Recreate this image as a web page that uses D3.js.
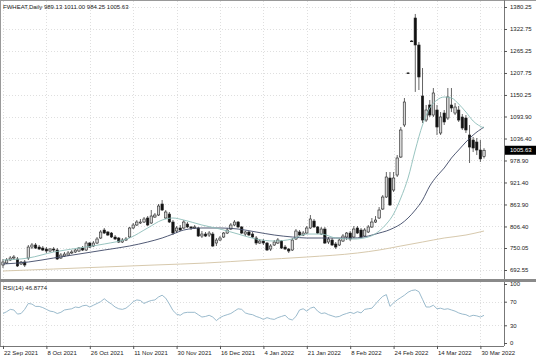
<!DOCTYPE html>
<html><head><meta charset="utf-8">
<script src="https://cdn.jsdelivr.net/npm/d3@7"></script>
<style>
html,body{margin:0;padding:0;background:#fff;}
svg{display:block;font-family:"Liberation Sans",Arial,sans-serif;}
</style></head><body>
<svg id="c" width="536" height="357"></svg>
<script>
// ---- data ----
const opens  = [705.6,710.8,718.7,723.9,721.3,708.2,713.4,723.9,752.6,757.9,752.6,750.0,747.4,742.2,747.4,744.8,723.9,729.1,731.7,737.0,739.6,742.2,750.0,744.8,763.1,755.3,763.1,776.2,797.1,791.9,789.2,778.8,776.2,765.7,770.9,778.8,802.4,810.2,815.4,818.0,828.5,815.4,831.1,836.3,865.1,828.5,838.9,818.0,794.5,802.4,802.4,812.8,805.0,802.4,802.4,781.4,786.6,784.0,786.6,763.1,770.9,778.8,789.2,799.7,810.2,818.0,805.0,786.6,791.9,786.6,776.2,763.1,768.3,763.1,747.4,757.9,763.1,768.3,752.6,747.4,744.8,773.6,791.9,784.0,789.2,802.4,820.6,805.0,786.6,799.7,765.7,770.9,760.5,757.9,768.3,778.8,789.2,778.8,802.4,797.1,781.4,791.9,805.0,818.0,828.5,852.0,883.4,933.1,901.7,940.9,988.0,1071.7,1207.7,1291.3,1351.5,1280.9,1147.5,1084.7,1124.0,1097.8,1110.9,1050.7,1103.0,1090.0,1124.0,1103.0,1110.9,1092.6,1090.0,1045.5,1032.4,1027.2,1006.3,989.13];
const highs  = [721.3,723.9,729.1,731.7,726.5,716.0,718.7,757.9,763.1,763.1,757.9,755.3,752.6,750.0,752.6,750.0,737.0,739.6,742.2,744.8,747.4,752.6,755.3,768.3,765.7,768.3,778.8,797.1,802.4,794.5,791.9,784.0,778.8,776.2,778.8,805.0,815.4,823.2,825.9,831.1,833.7,849.4,841.6,865.1,875.5,849.4,844.2,823.2,807.6,810.2,823.2,818.0,807.6,810.2,805.0,794.5,791.9,794.5,791.9,776.2,781.4,791.9,802.4,815.4,823.2,820.6,807.6,794.5,794.5,791.9,781.4,773.6,773.6,765.7,760.5,770.9,776.2,770.9,757.9,750.0,776.2,799.7,797.1,794.5,807.6,836.3,825.9,807.6,805.0,805.0,778.8,776.2,765.7,776.2,786.6,791.9,794.5,807.6,807.6,802.4,802.4,810.2,828.5,833.7,857.2,888.6,948.8,948.8,948.8,993.2,1066.4,1142.3,1210.3,1294.0,1362.0,1288.7,1220.7,1124.0,1137.0,1168.4,1124.0,1105.6,1110.9,1168.4,1168.4,1129.2,1121.4,1100.4,1097.8,1071.7,1040.3,1037.7,1032.4,1011.00];
const lows   = [697.8,708.2,716.0,718.7,700.4,705.6,700.4,718.7,747.4,747.4,744.8,742.2,737.0,739.6,739.6,718.7,721.3,726.5,729.1,734.3,737.0,739.6,742.2,742.2,750.0,752.6,760.5,773.6,786.6,781.4,776.2,770.9,763.1,763.1,768.3,776.2,799.7,807.6,812.8,815.4,807.6,812.8,828.5,833.7,846.8,825.9,815.4,784.0,789.2,794.5,799.7,802.4,797.1,799.7,778.8,776.2,778.8,778.8,752.6,755.3,768.3,776.2,786.6,797.1,807.6,802.4,786.6,781.4,781.4,776.2,757.9,760.5,757.9,742.2,742.2,755.3,760.5,747.4,744.8,737.0,742.2,770.9,781.4,781.4,786.6,799.7,802.4,786.6,784.0,760.5,760.5,755.3,747.4,755.3,765.7,770.9,768.3,776.2,786.6,776.2,778.8,789.2,802.4,815.4,825.9,849.4,880.8,859.9,896.5,935.7,985.4,1066.4,1205.1,1288.7,1158.2,1163.2,1077.0,1079.6,1092.6,1092.6,1045.5,1045.5,1071.7,1084.7,1105.6,1097.8,1079.6,1058.6,1050.7,972.3,1001.0,993.2,975.0,984.25];
const closes = [713.4,718.7,723.9,726.5,703.0,713.4,705.6,752.6,757.9,750.0,747.4,744.8,742.2,747.4,744.8,721.3,731.7,734.3,737.0,739.6,744.8,750.0,744.8,763.1,752.6,763.1,773.6,791.9,789.2,784.0,778.8,773.6,765.7,770.9,773.6,802.4,810.2,818.0,818.0,825.9,810.2,833.7,836.3,859.9,849.4,844.2,818.0,789.2,802.4,797.1,818.0,805.0,802.4,805.0,781.4,786.6,781.4,789.2,755.3,770.9,776.2,789.2,797.1,810.2,818.0,805.0,789.2,791.9,784.0,778.8,763.1,768.3,763.1,744.8,755.3,765.7,770.9,750.0,747.4,742.2,770.9,794.5,784.0,789.2,802.4,825.9,805.0,789.2,799.7,763.1,773.6,757.9,752.6,770.9,781.4,789.2,773.6,799.7,789.2,778.8,797.1,805.0,818.0,823.2,849.4,883.4,935.7,862.5,933.1,985.4,1058.6,1131.8,1206.4,1290.0,1280.9,1197.2,1084.7,1110.9,1097.8,1155.4,1066.4,1092.6,1079.6,1144.9,1116.1,1118.7,1084.7,1063.8,1058.6,1014.1,1011.5,1006.3,983.0,1005.63];

const rsiValues = [50,53,57,56,49,50,57,67,66,62,62,60,57,54,53,50,52,56,57,58,61,60,63,64,61,64,67,70,75,70,66,61,58,57,59,64,70,73,72,67,70,72,73,78,81,76,66,55,49,47,51,52,52,52,48,44,45,47,44,38,43,46,48,50,54,58,57,51,49,48,45,43,40,43,41,40,43,45,47,41,39,45,56,58,54,59,61,54,50,51,48,46,44,45,48,50,52,50,53,51,57,58,59,66,73,79,82,62,68,73,77,81,86,89,90,87,74,61,61,64,58,59,57,58,56,54,51,49,48,45,47,46,44,46.88];

const maBars   = [0,7,14,21,28,35,40,44,47,50,55,60,65,70,75,80,84,88,92,97,101,104,106,108,110,112,114,116,118,120,122,124,126,128,130,133];
const maFast   = [718.7,723.9,739.6,750.0,760.5,776.2,802.4,823.2,828.5,823.2,810.2,799.7,786.6,773.6,768.3,773.6,786.6,786.6,776.2,773.6,778.8,794.5,812.8,839.0,880.8,933.1,1006.3,1071.7,1116.1,1137.0,1144.9,1142.3,1126.6,1105.6,1082.1,1063.8];
const maSlow   = [708.2,713.4,723.9,734.3,744.8,755.3,765.7,776.2,786.6,797.1,802.4,802.4,799.7,791.9,784.0,778.8,776.2,776.2,776.2,776.2,781.4,789.2,794.5,802.4,812.8,828.5,849.4,875.5,912.2,938.3,959.2,985.4,1006.3,1027.2,1045.5,1066.4];
const maLongBars = [0,14,28,42,56,70,84,98,104,110,116,122,128,133];
const maLong     = [689.9,695.1,700.4,705.6,710.8,718.7,726.5,737.0,744.8,755.3,765.7,776.2,784.0,794.5];

const priceTicks = [1380.25,1322.75,1265.25,1207.75,1150.25,1093.90,1036.40,978.90,921.40,863.90,806.40,750.05,692.55];
const rsiTicks = [100,70,30,0];
const rsiLevels = [70,30];
const dateLabels = ["22 Sep 2021","8 Oct 2021","26 Oct 2021","11 Nov 2021","30 Nov 2021","16 Dec 2021","4 Jan 2022","21 Jan 2022","8 Feb 2022","24 Feb 2022","14 Mar 2022","30 Mar 2022"];
const dateLabelBars = [0,12,24,36,48,60,72,84,96,108,120,132];
const headerText = "FWHEAT,Daily  989.13 1011.00 984.25 1005.63";
const rsiText = "RSI(14) 46.8774";
const lastPrice = 1005.63;

// ---- layout ----
const svg = d3.select("#c");
const plotR = 504, mainTop = 1, mainBot = 279, rsiTop = 282, rsiBot = 346;
const FS = 6;

const x = d3.scaleLinear().domain([0, 133]).range([3, 484]);
const y = d3.scaleLinear().domain([692.55, 1380.25]).range([270, 7]);
const yR = d3.scaleLinear().domain([0, 100]).range([343, 284]);

svg.append("rect").attr("width",536).attr("height",357).attr("fill","#fff");

// grid
const grid = svg.append("g").attr("stroke","#c9c9c9").attr("stroke-width",0.6).attr("stroke-dasharray","1,2").attr("shape-rendering","crispEdges");
priceTicks.forEach(v => grid.append("line").attr("x1",0).attr("x2",plotR).attr("y1",Math.round(y(v))+0.5).attr("y2",Math.round(y(v))+0.5));
dateLabelBars.forEach(b => {
  const xx = Math.round(x(b))+0.5;
  grid.append("line").attr("x1",xx).attr("x2",xx).attr("y1",mainTop).attr("y2",mainBot);
  grid.append("line").attr("x1",xx).attr("x2",xx).attr("y1",rsiTop).attr("y2",rsiBot);
});
rsiLevels.forEach(v => grid.append("line").attr("x1",0).attr("x2",plotR).attr("y1",Math.round(yR(v))+0.5).attr("y2",Math.round(yR(v))+0.5));

// candles
const bars = closes.map((c,i)=>({i,o:opens[i],h:highs[i],l:lows[i],c}));
const cg = svg.append("g");
const bw = 2.4;
cg.selectAll("line.w").data(bars).join("line")
  .attr("x1",d=>x(d.i)).attr("x2",d=>x(d.i))
  .attr("y1",d=>y(d.h)).attr("y2",d=>y(d.l))
  .attr("stroke","#222").attr("stroke-width",0.7);
cg.selectAll("rect.b").data(bars).join("rect")
  .attr("x",d=>x(d.i)-bw/2).attr("width",bw)
  .attr("y",d=>y(Math.max(d.o,d.c)))
  .attr("height",d=>Math.max(0.7, Math.abs(y(d.o)-y(d.c))))
  .attr("fill",d=>d.c>=d.o?"#d8d8d8":"#111")
  .attr("stroke","#222").attr("stroke-width",0.6);

// moving averages
const mline = d3.line().curve(d3.curveMonotoneX);
svg.append("path").attr("d", mline(maLongBars.map((b,k)=>[x(b), y(maLong[k])])))
  .attr("fill","none").attr("stroke","#d7c9ad").attr("stroke-width",1);
svg.append("path").attr("d", mline(maBars.map((b,k)=>[x(b), y(maSlow[k])])))
  .attr("fill","none").attr("stroke","#3e4866").attr("stroke-width",0.9);
svg.append("path").attr("d", mline(maBars.map((b,k)=>[x(b), y(maFast[k])])))
  .attr("fill","none").attr("stroke","#8dbdb9").attr("stroke-width",0.9);

// RSI
svg.append("path").attr("d", d3.line()(rsiValues.map((v,i)=>[x(i), yR(v)])))
  .attr("fill","none").attr("stroke","#8fb2c6").attr("stroke-width",0.9);

// frames
const fr = svg.append("g").attr("fill","none").attr("shape-rendering","crispEdges");
fr.append("line").attr("x1",0).attr("x2",536).attr("y1",0.5).attr("y2",0.5).attr("stroke","#999");
fr.append("line").attr("x1",0.5).attr("x2",0.5).attr("y1",0).attr("y2",rsiBot).attr("stroke","#999");
fr.append("line").attr("x1",plotR+0.5).attr("x2",plotR+0.5).attr("y1",0).attr("y2",rsiBot).attr("stroke","#777");
fr.append("rect").attr("x",0).attr("y",mainBot).attr("width",536).attr("height",2.5).attr("fill","#8a8a8a");
fr.append("line").attr("x1",0).attr("x2",plotR).attr("y1",rsiBot+0.5).attr("y2",rsiBot+0.5).attr("stroke","#777");

// axes
const ay = svg.append("g").attr("transform",`translate(${plotR},0)`)
  .call(d3.axisRight(y).tickValues(priceTicks).tickFormat(d3.format(".2f")).tickSize(3).tickPadding(3));
const ar = svg.append("g").attr("transform",`translate(${plotR},0)`)
  .call(d3.axisRight(yR).tickValues(rsiTicks).tickFormat(d3.format("d")).tickSize(3).tickPadding(3));
const ax = svg.append("g").attr("transform",`translate(0,${rsiBot})`)
  .call(d3.axisBottom(x).tickValues(dateLabelBars).tickFormat((d,i)=>dateLabels[i]).tickSize(3).tickPadding(2));
[ay,ar,ax].forEach(g=>{
  g.select(".domain").remove();
  g.selectAll(".tick line").attr("stroke","#555");
  g.selectAll("text").attr("font-size",FS).attr("fill","#222").attr("font-family","Liberation Sans, Arial, sans-serif");
});
ax.selectAll("text").attr("text-anchor","start").attr("dx",0.5);

// current price label
const lp = y(lastPrice);
svg.append("rect").attr("x",plotR+1).attr("y",lp-4.5).attr("width",31).attr("height",9).attr("fill","#000");
svg.append("text").attr("x",plotR+6).attr("y",lp+2.2).attr("font-size",FS).attr("fill","#fff").text(d3.format(".2f")(lastPrice));

// headers
svg.append("text").attr("x",3).attr("y",9).attr("font-size",FS).attr("fill","#222").text(headerText);
svg.append("text").attr("x",3).attr("y",290).attr("font-size",FS).attr("fill","#222").text(rsiText);
</script>
</body></html>
